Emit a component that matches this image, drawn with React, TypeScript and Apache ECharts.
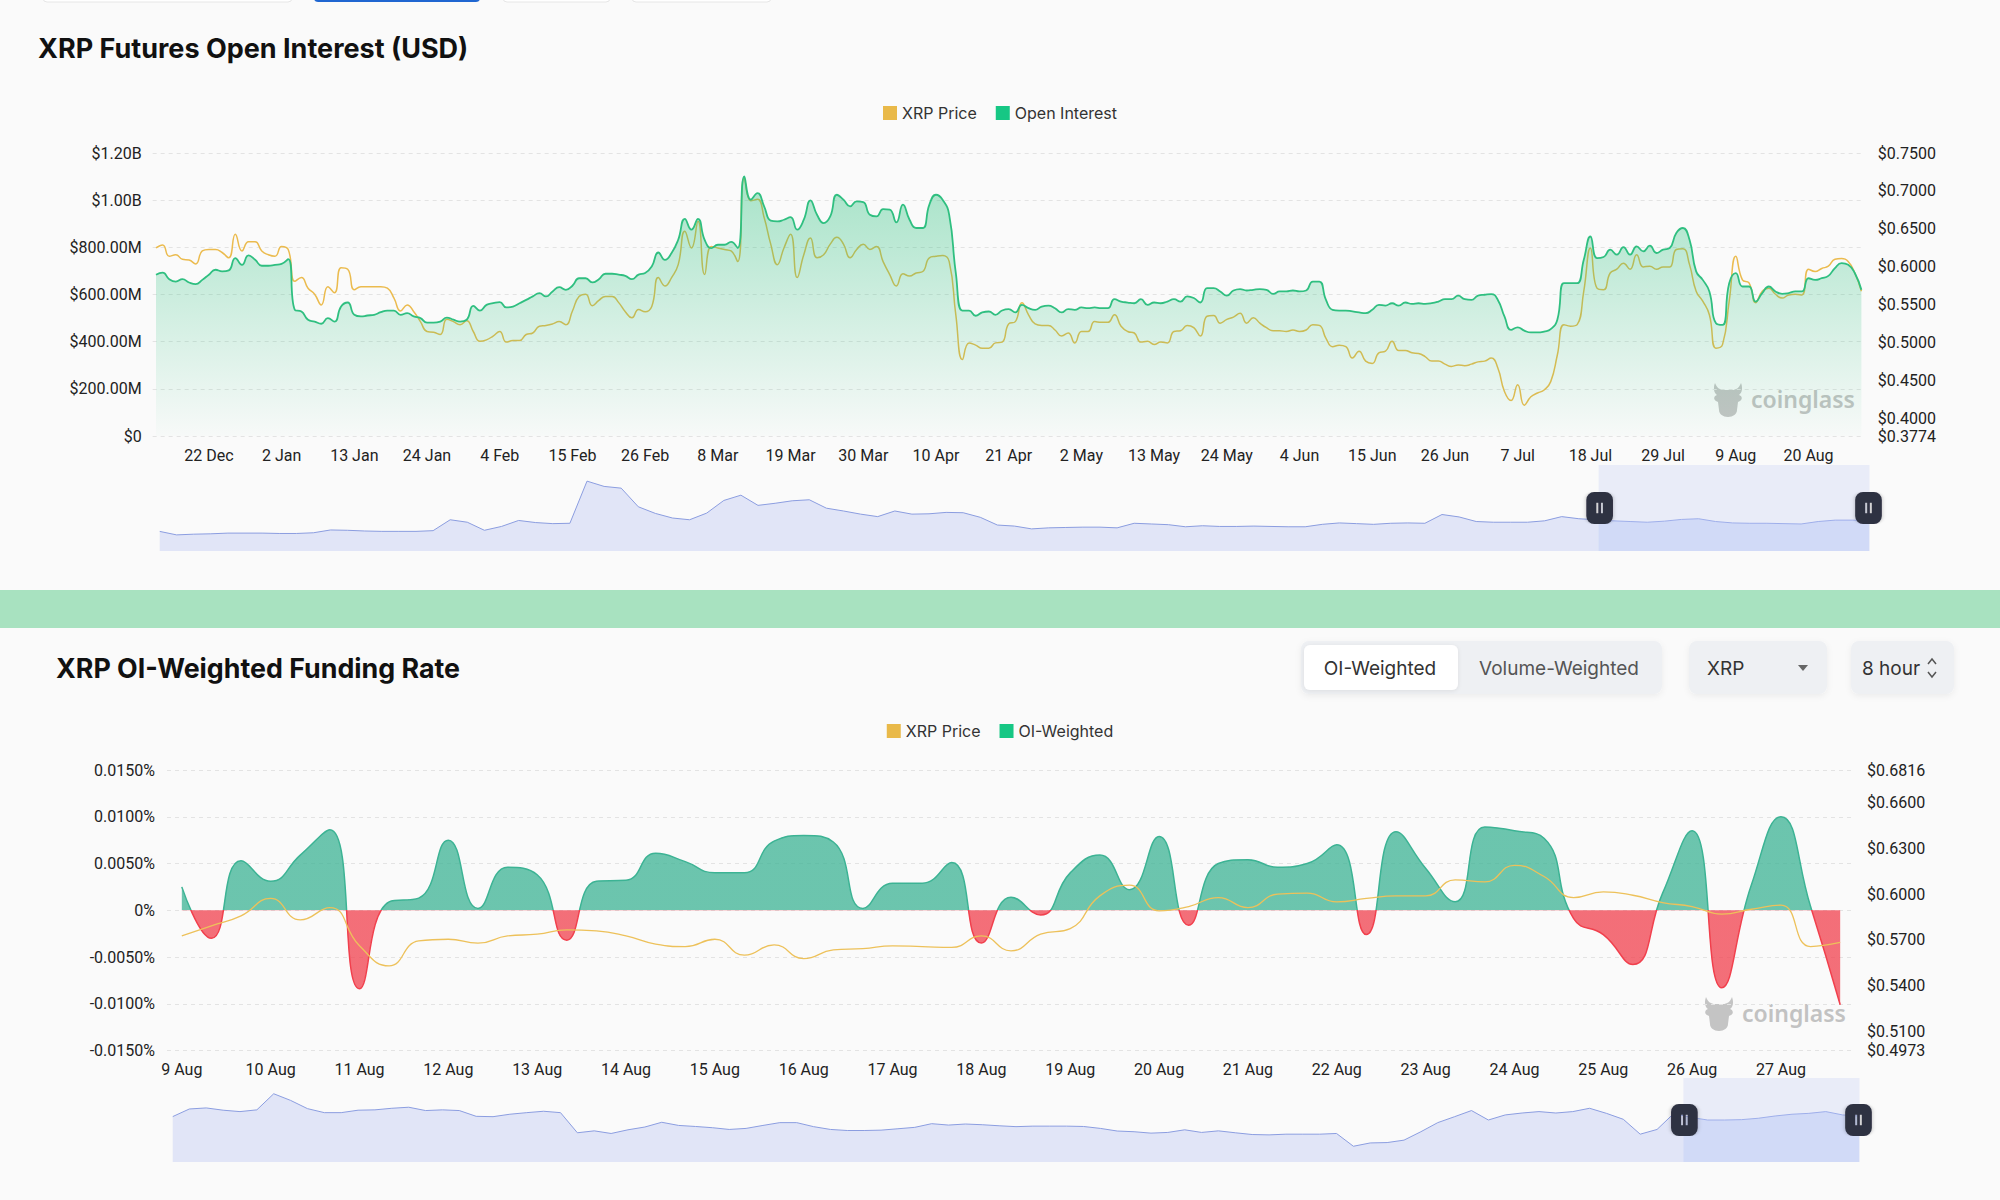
import React, { useEffect, useRef } from 'react';
import * as echarts from 'echarts';

// ---------- categories ----------
const MON = ['Jan', 'Feb', 'Mar', 'Apr', 'May', 'Jun', 'Jul', 'Aug', 'Sep', 'Oct', 'Nov', 'Dec'];
function makeDays(y: number, m: number, d: number, n: number): string[] {
  const out: string[] = [];
  for (let i = 0; i < n; i++) {
    const dt = new Date(Date.UTC(y, m, d + i));
    out.push(`${dt.getUTCDate()} ${MON[dt.getUTCMonth()]}`);
  }
  return out;
}
function makeSlots(y: number, m: number, d: number, n: number): string[] {
  const out: string[] = [];
  for (let i = 0; i < n; i++) {
    const dt = new Date(Date.UTC(y, m, d, i * 8));
    const hh = String(dt.getUTCHours()).padStart(2, '0');
    out.push(`${dt.getUTCDate()} ${MON[dt.getUTCMonth()]} ${hh}:00`);
  }
  return out;
}
const oiDates = makeDays(2023, 11, 14, 259); // 14 Dec 2023 .. 28 Aug 2024
const fundingSlots = makeSlots(2024, 7, 9, 57); // 9 Aug 00:00 .. 27 Aug 16:00

// ---------- top chart: open interest (USD, millions), daily ----------
const oiValues = [
  684, 693, 665, 655, 665, 651, 644, 662, 684, 705, 698, 702, 754, 726, 766, 747, 722, 722,
  726, 730, 750, 535, 528, 493, 485, 476, 500, 485, 549, 566, 514, 507, 511, 514, 525, 532, 532, 514, 521, 507, 500, 481, 481, 485, 502, 493, 485, 493, 552,
  532, 556, 563, 568, 545, 549, 563, 577, 592, 606, 592, 613, 631, 620, 637, 669, 669, 651, 665, 688, 688, 684, 679, 665, 684, 691, 719, 778, 747,
  776, 832, 921, 875, 921, 832, 797, 811, 811, 823, 797, 1101, 1002, 1030, 974, 913, 910, 917, 928, 875, 917, 999, 938, 903, 931, 1023, 1002, 974, 995, 992, 938,
  931, 962, 960, 906, 981, 917, 882, 882, 981, 1023, 1002, 938, 691, 532, 532, 510, 524, 528, 514, 532, 538, 524, 556, 542, 535, 549, 553, 542, 524, 538,
  535, 545, 542, 545, 542, 542, 580, 570, 566, 563, 580, 556, 566, 563, 570, 580, 570, 592, 585, 566, 627, 627, 613, 595, 617, 623, 617, 620, 623, 620, 603,
  613, 613, 617, 613, 617, 655, 655, 577, 535, 532, 532, 528, 524, 521, 535, 556, 553, 563, 553, 566, 560, 563, 560, 563, 570, 580, 580, 595, 580, 577,
  595, 599, 602, 577, 507, 450, 461, 447, 439, 439, 443, 453, 493, 648, 648, 648, 747, 846, 754, 759, 790, 769, 801, 769, 804, 783, 807, 776, 790, 797, 861,
  882, 832, 698, 662, 613, 478, 471, 648, 691, 634, 634, 570, 606, 634, 613, 603, 606, 613, 613, 669, 662, 669, 679, 712, 733, 726, 691, 620,
];
const topPrice = [
  0.625, 0.629, 0.614, 0.616, 0.610, 0.609, 0.604, 0.621, 0.623, 0.623, 0.619, 0.612, 0.643, 0.621, 0.633, 0.633, 0.621, 0.616,
  0.614, 0.627, 0.623, 0.581, 0.586, 0.572, 0.564, 0.550, 0.574, 0.566, 0.599, 0.597, 0.570, 0.574, 0.574, 0.574, 0.574, 0.572, 0.559, 0.542, 0.550, 0.541, 0.528, 0.515, 0.514, 0.511, 0.531, 0.528, 0.524, 0.529, 0.515,
  0.502, 0.504, 0.509, 0.515, 0.501, 0.503, 0.503, 0.511, 0.513, 0.522, 0.523, 0.525, 0.528, 0.524, 0.542, 0.561, 0.564, 0.549, 0.556, 0.561, 0.561, 0.553, 0.541, 0.533, 0.544, 0.541, 0.548, 0.586, 0.575,
  0.586, 0.603, 0.647, 0.625, 0.660, 0.590, 0.627, 0.625, 0.623, 0.621, 0.607, 0.717, 0.687, 0.689, 0.665, 0.630, 0.603, 0.625, 0.643, 0.586, 0.616, 0.638, 0.612, 0.616, 0.630, 0.639, 0.630, 0.612, 0.623, 0.630, 0.623,
  0.627, 0.607, 0.590, 0.575, 0.591, 0.588, 0.592, 0.594, 0.612, 0.614, 0.615, 0.607, 0.537, 0.478, 0.500, 0.497, 0.493, 0.493, 0.500, 0.501, 0.525, 0.528, 0.553, 0.537, 0.525, 0.523, 0.523, 0.517, 0.509, 0.513,
  0.500, 0.515, 0.515, 0.528, 0.527, 0.527, 0.537, 0.522, 0.515, 0.513, 0.501, 0.502, 0.498, 0.501, 0.500, 0.515, 0.516, 0.523, 0.520, 0.509, 0.535, 0.536, 0.526, 0.531, 0.534, 0.539, 0.526, 0.533, 0.526, 0.520, 0.516,
  0.516, 0.515, 0.517, 0.515, 0.517, 0.524, 0.523, 0.506, 0.495, 0.497, 0.495, 0.480, 0.489, 0.476, 0.473, 0.487, 0.489, 0.502, 0.490, 0.490, 0.487, 0.486, 0.482, 0.476, 0.476, 0.472, 0.469, 0.471, 0.470, 0.472,
  0.475, 0.476, 0.480, 0.467, 0.436, 0.424, 0.445, 0.418, 0.429, 0.434, 0.438, 0.449, 0.484, 0.524, 0.522, 0.524, 0.568, 0.625, 0.572, 0.570, 0.592, 0.597, 0.605, 0.597, 0.616, 0.600, 0.601, 0.597, 0.600, 0.600, 0.623,
  0.624, 0.603, 0.568, 0.555, 0.537, 0.493, 0.498, 0.555, 0.614, 0.583, 0.579, 0.553, 0.568, 0.572, 0.564, 0.559, 0.563, 0.564, 0.563, 0.597, 0.594, 0.598, 0.601, 0.610, 0.611, 0.607, 0.592, 0.568,
];
// full-history price used by the top zoom slider (evenly spaced samples)
const topHistory = [
  0.305, 0.200, 0.221, 0.232, 0.253, 0.253, 0.253, 0.242, 0.242, 0.263,
  0.347, 0.337, 0.316, 0.305, 0.305, 0.305, 0.326, 0.652, 0.578, 0.337,
  0.452, 0.631, 0.568, 0.536, 0.547, 1.807, 1.649, 1.597, 1.040, 0.841,
  0.704, 0.652, 0.851, 1.229, 1.387, 1.082, 1.145, 1.219, 1.250, 0.998,
  0.914, 0.820, 0.746, 0.914, 0.820, 0.830, 0.872, 0.862, 0.725, 0.494,
  0.463, 0.379, 0.410, 0.421, 0.431, 0.431, 0.410, 0.547, 0.526, 0.505,
  0.442, 0.473, 0.452, 0.452, 0.463, 0.452, 0.442, 0.442, 0.515, 0.557,
  0.536, 0.515, 0.547, 0.557, 0.547, 0.809, 0.736, 0.599, 0.578, 0.578,
  0.578, 0.620, 0.746, 0.683, 0.652, 0.620, 0.599, 0.578, 0.610, 0.662,
  0.683, 0.599, 0.557, 0.547, 0.547, 0.536, 0.526, 0.599, 0.641, 0.641,
  0.620,
];

// ---------- bottom chart: OI-weighted funding rate (%), 8-hour ----------
const funding = [
  0.0025, -0.0030, 0.0053, 0.0031, 0.0059, 0.0086, -0.0084, 0.0009, 0.0013, 0.0075,
  0.0002, 0.0046, 0.0038, -0.0032, 0.0031, 0.0032, 0.0061, 0.0052, 0.0040, 0.0040,
  0.0074, 0.0080, 0.0073, 0.0002, 0.0029, 0.0029, 0.0051, -0.0035, 0.0014, -0.0005,
  0.0040, 0.0059, 0.0022, 0.0079, -0.0016, 0.0050, 0.0054, 0.0046, 0.0050, 0.0070,
  -0.0026, 0.0084, 0.0045, 0.0009, 0.0089, 0.0085, 0.0077, -0.0009, -0.0026, -0.0058,
  0.0018, 0.0085, -0.0083, 0.0027, 0.0100, 0.0004, -0.0101,
];
const fundPrice = [
  0.5726, 0.5792, 0.5858, 0.5972, 0.5831, 0.5912, 0.5661, 0.5529, 0.5693, 0.5704,
  0.5678, 0.5726, 0.5737, 0.5766, 0.5759, 0.5726, 0.5672, 0.5656, 0.5704, 0.5599,
  0.5667, 0.5577, 0.5634, 0.5643, 0.5661, 0.5656, 0.5650, 0.5726, 0.5628, 0.5737,
  0.5774, 0.5989, 0.6059, 0.5891, 0.5919, 0.5978, 0.5912, 0.6000, 0.6007, 0.5950,
  0.5972, 0.5989, 0.5989, 0.6094, 0.6081, 0.6190, 0.6116, 0.5978, 0.6015, 0.5993,
  0.5945, 0.5919, 0.5869, 0.5901, 0.5928, 0.5656, 0.5683,
];
const bottomHistory = [
  0.589, 0.633, 0.639, 0.626, 0.618, 0.628, 0.720, 0.682, 0.635, 0.612,
  0.612, 0.626, 0.628, 0.637, 0.643, 0.624, 0.628, 0.624, 0.591, 0.589,
  0.603, 0.612, 0.620, 0.612, 0.497, 0.508, 0.493, 0.514, 0.530, 0.557,
  0.539, 0.533, 0.526, 0.516, 0.522, 0.539, 0.555, 0.555, 0.532, 0.516,
  0.510, 0.510, 0.512, 0.520, 0.528, 0.549, 0.541, 0.547, 0.543, 0.537,
  0.532, 0.535, 0.535, 0.535, 0.533, 0.522, 0.507, 0.503, 0.495, 0.499,
  0.514, 0.499, 0.508, 0.497, 0.487, 0.485, 0.489, 0.489, 0.489, 0.493,
  0.420, 0.439, 0.441, 0.455, 0.503, 0.555, 0.589, 0.624, 0.570, 0.599,
  0.610, 0.618, 0.610, 0.618, 0.637, 0.608, 0.574, 0.489, 0.516, 0.608,
  0.585, 0.570, 0.570, 0.572, 0.580, 0.593, 0.603, 0.608, 0.618, 0.599,
  0.593,
];
const topHistIdx = topHistory.map((_, i) => String(i));
const bottomHistIdx = bottomHistory.map((_, i) => String(i));

// ---------- styles ----------
const YELLOW = '#e9b949';
const GREEN = '#16c784';
const TEAL = '#3cb394';
const RED = '#f1404d';
const LABEL = '#222';
const FONT = 'Roboto, "Noto Sans", sans-serif';

const LOGO_PATH =
  'M3 1 C5 6 8 8 12 8 L20 8 C24 8 27 6 29 1 C31 6 30 11 27 13 C30 14 31 17 28 19 L26 20 L25 28 C25 32 21 35 16 35 C11 35 7 32 7 28 L6 20 L4 19 C1 17 2 14 5 13 C2 11 1 6 3 1 Z';
echarts.graphic.registerShape('cgLogo', echarts.graphic.extendPath(LOGO_PATH, {}));

const HANDLE_ICON =
  'path://M6,0H14A6,6,0,0,1,20,6V18A6,6,0,0,1,14,24H6A6,6,0,0,1,0,18V6A6,6,0,0,1,6,0ZM7.5,8V16H9V8ZM11,8V16H12.5V8Z';

const fmtUsd = (v: number) =>
  v === 0 ? '$0' : v >= 1000 ? '$' + (v / 1000).toFixed(2) + 'B' : '$' + v.toFixed(2) + 'M';
const fmtPrice = (v: number) => '$' + v.toFixed(4);
const fmtPct = (v: number) => (Math.abs(v) < 1e-9 ? '0%' : v.toFixed(4) + '%');

const axisLabelBase = { color: LABEL, fontSize: 16, fontFamily: FONT };
const dashed = { show: true, lineStyle: { color: '#e3e3e3', type: [4, 4] as any, width: 1 } };

const sliderBase = {
  type: 'slider',
  backgroundColor: 'rgba(0,0,0,0)',
  borderColor: 'rgba(0,0,0,0)',
  fillerColor: 'rgba(120,150,240,0.13)',
  dataBackground: {
    lineStyle: { color: '#8b9de0', width: 1, opacity: 1 },
    areaStyle: { color: '#c3cdf3', opacity: 0.45 },
  },
  selectedDataBackground: {
    lineStyle: { color: '#a4b3ea', width: 1, opacity: 1 },
    areaStyle: { color: '#a9bcf5', opacity: 0.35 },
  },
  handleIcon: HANDLE_ICON,
  handleSize: 32,
  handleStyle: { color: '#2e3142', borderWidth: 0, shadowBlur: 4, shadowColor: 'rgba(0,0,0,0.25)' },
  emphasis: { handleStyle: { color: '#2e3142', borderWidth: 0 } },
  moveHandleSize: 0,
  showDetail: false,
  brushSelect: false,
  showDataShadow: true,
};

function box(x: number, y: number, w: number, h: number, r: number, fill: string, extra: any = {}) {
  return { type: 'rect', shape: { x, y, width: w, height: h, r }, style: { fill, ...extra }, silent: true };
}
function txt(x: number, y: number, text: string, size: number, fill: string, align = 'left', weight: any = 400, family = 'Inter') {
  return {
    type: 'text',
    x,
    y,
    silent: true,
    style: { text, fontSize: size, fontWeight: weight, fontFamily: family, fill, textAlign: align, textVerticalAlign: 'middle' },
  };
}

function buildOption(): any {
  const graphic: any[] = [
    // cut-off tab buttons at the top edge
    box(43, -20, 249, 22, 4, '#ffffff', { stroke: '#e6e6e6', lineWidth: 1 }),
    box(314, -20, 166, 22, 4, '#1f66d1'),
    box(503, -20, 107, 22, 4, '#ffffff', { stroke: '#e6e6e6', lineWidth: 1 }),
    box(632, -20, 139, 22, 4, '#ffffff', { stroke: '#e6e6e6', lineWidth: 1 }),
    txt(38, 48, 'XRP Futures Open Interest (USD)', 27, '#111', 'left', 700),
    // separator band
    { type: 'rect', shape: { x: 0, y: 590, width: 2000, height: 38 }, style: { fill: '#a8e2c0' }, silent: true },
    txt(56, 668, 'XRP OI-Weighted Funding Rate', 26.8, '#111', 'left', 700),
    // controls
    box(1301, 641, 361, 53, 8, '#eef0f3', { shadowBlur: 6, shadowColor: 'rgba(0,0,0,0.06)', shadowOffsetY: 2 }),
    box(1304, 645, 154, 45, 6, '#ffffff', { shadowBlur: 4, shadowColor: 'rgba(0,0,0,0.08)', shadowOffsetY: 1 }),
    txt(1380, 668, 'OI-Weighted', 19, '#333', 'center'),
    txt(1559, 668, 'Volume-Weighted', 19, '#555', 'center'),
    box(1689, 641, 138, 53, 8, '#eef0f3', { shadowBlur: 6, shadowColor: 'rgba(0,0,0,0.06)', shadowOffsetY: 2 }),
    txt(1707, 668, 'XRP', 19, '#333', 'left'),
    { type: 'polygon', shape: { points: [[1798, 665], [1808, 665], [1803, 671]] }, style: { fill: '#666' }, silent: true },
    box(1851, 641, 103, 53, 8, '#eef0f3', { shadowBlur: 6, shadowColor: 'rgba(0,0,0,0.06)', shadowOffsetY: 2 }),
    txt(1862, 668, '8 hour', 19, '#333', 'left'),
    { type: 'polyline', shape: { points: [[1928, 664], [1932, 659], [1936, 664]] }, style: { stroke: '#555', lineWidth: 1.5, fill: 'none' }, silent: true },
    { type: 'polyline', shape: { points: [[1928, 672], [1932, 677], [1936, 672]] }, style: { stroke: '#555', lineWidth: 1.5, fill: 'none' }, silent: true },
    // watermarks
    { type: 'cgLogo', x: 1712, y: 382, style: { fill: '#c4c4c4' }, silent: true },
    txt(1751, 399, 'coinglass', 23, '#c2c2c2', 'left', 600, '"Noto Sans", sans-serif'),
    { type: 'cgLogo', x: 1703, y: 996, style: { fill: '#c4c4c4' }, silent: true },
    txt(1742, 1013, 'coinglass', 23, '#c2c2c2', 'left', 600, '"Noto Sans", sans-serif'),
  ];

  return {
    animation: false,
    backgroundColor: '#fafafa',
    textStyle: { fontFamily: FONT },
    graphic,
    legend: [
      {
        data: ['XRP Price', 'Open Interest'],
        top: 100,
        left: 'center',
        icon: 'rect',
        itemWidth: 14,
        itemHeight: 14,
        itemGap: 19,
        selectedMode: false,
        textStyle: { fontSize: 16, color: '#333', fontFamily: 'Inter' },
      },
      {
        data: ['XRP Price', 'OI-Weighted'],
        top: 718,
        left: 'center',
        icon: 'rect',
        itemWidth: 14,
        itemHeight: 14,
        itemGap: 19,
        selectedMode: false,
        textStyle: { fontSize: 16, color: '#333', fontFamily: 'Inter' },
      },
    ],
    grid: [
      { left: 152.7, right: 135.3, top: 153, height: 283, containLabel: false },
      { left: 157, right: 133, top: 465, height: 86, containLabel: false },
      { left: 167, right: 145, top: 770, height: 280.5, containLabel: false },
      { left: 170, right: 143, top: 1078, height: 84, containLabel: false },
    ],
    xAxis: [
      {
        type: 'category',
        gridIndex: 0,
        data: oiDates,
        boundaryGap: true,
        axisLine: { show: false },
        axisTick: { show: false },
        splitLine: { show: false },
        axisLabel: { ...axisLabelBase, margin: 11.5, interval: (i: number) => (i - 8) % 11 === 0 },
      },
      { type: 'category', gridIndex: 1, data: topHistIdx, show: false, boundaryGap: false },
      {
        type: 'category',
        gridIndex: 2,
        data: fundingSlots,
        boundaryGap: true,
        axisLine: { show: false },
        axisTick: { show: false },
        splitLine: { show: false },
        axisLabel: {
          ...axisLabelBase,
          margin: 11,
          interval: 2,
          formatter: (v: string) => v.split(' ').slice(0, 2).join(' '),
        },
      },
      { type: 'category', gridIndex: 3, data: bottomHistIdx, show: false, boundaryGap: false },
    ],
    yAxis: [
      {
        type: 'value',
        gridIndex: 0,
        position: 'left',
        min: 0,
        max: 1200,
        interval: 200,
        axisLine: { show: false },
        axisTick: { show: false },
        splitLine: dashed,
        axisLabel: { ...axisLabelBase, margin: 11, formatter: fmtUsd },
      },
      {
        type: 'value',
        gridIndex: 0,
        position: 'right',
        min: 0.3774,
        max: 0.75,
        splitNumber: 7,
        axisLine: { show: false },
        axisTick: { show: false },
        splitLine: { show: false },
        axisLabel: { ...axisLabelBase, margin: 13, formatter: fmtPrice },
      },
      { type: 'value', gridIndex: 1, show: false, scale: true },
      {
        type: 'value',
        gridIndex: 2,
        position: 'left',
        min: -0.015,
        max: 0.015,
        interval: 0.005,
        axisLine: { show: false },
        axisTick: { show: false },
        splitLine: dashed,
        axisLabel: { ...axisLabelBase, margin: 12, formatter: fmtPct },
      },
      {
        type: 'value',
        gridIndex: 2,
        position: 'right',
        min: 0.4973,
        max: 0.6816,
        splitNumber: 5,
        axisLine: { show: false },
        axisTick: { show: false },
        splitLine: { show: false },
        axisLabel: { ...axisLabelBase, margin: 12, formatter: fmtPrice },
      },
      { type: 'value', gridIndex: 3, show: false, scale: true },
    ],
    visualMap: [
      {
        type: 'piecewise',
        show: false,
        seriesIndex: 3,
        dimension: 1,
        pieces: [
          { gte: -1, lt: 0, color: RED },
          { gte: 0, lte: 1, color: TEAL },
        ],
      },
    ],
    dataZoom: [
      { ...sliderBase, xAxisIndex: 1, start: 84.16, end: 100, left: 157, right: 133, top: 465, height: 86 },
      { ...sliderBase, xAxisIndex: 3, start: 89.56, end: 100, left: 170, right: 143, top: 1078, height: 84 },
    ],
    series: [
      {
        name: 'XRP Price',
        type: 'line',
        xAxisIndex: 0,
        yAxisIndex: 1,
        data: topPrice,
        smooth: true,
        symbol: 'none',
        itemStyle: { color: YELLOW },
        lineStyle: { width: 1.5, color: '#ebbb4e' },
        z: 2,
      },
      {
        name: 'Open Interest',
        type: 'line',
        xAxisIndex: 0,
        yAxisIndex: 0,
        data: oiValues,
        smooth: true,
        symbol: 'none',
        itemStyle: { color: GREEN },
        lineStyle: { width: 1.8, color: '#2fbf80' },
        areaStyle: {
          color: new echarts.graphic.LinearGradient(0, 0, 0, 1, [
            { offset: 0, color: 'rgba(34,190,120,0.55)' },
            { offset: 1, color: 'rgba(34,190,120,0.02)' },
          ]),
        },
        z: 3,
      },
      {
        name: 'history-top',
        type: 'line',
        xAxisIndex: 1,
        yAxisIndex: 2,
        data: topHistory,
        symbol: 'none',
        silent: true,
        lineStyle: { opacity: 0 },
      },
      {
        name: 'OI-Weighted',
        type: 'line',
        xAxisIndex: 2,
        yAxisIndex: 3,
        data: funding,
        smooth: true,
        symbol: 'none',
        itemStyle: { color: GREEN },
        lineStyle: { width: 1.5 },
        areaStyle: { opacity: 0.75 },
        z: 2,
      },
      {
        name: 'XRP Price',
        type: 'line',
        xAxisIndex: 2,
        yAxisIndex: 4,
        data: fundPrice,
        smooth: true,
        symbol: 'none',
        itemStyle: { color: YELLOW },
        lineStyle: { width: 1.3, color: '#edc15a' },
        z: 3,
      },
      {
        name: 'history-bottom',
        type: 'line',
        xAxisIndex: 3,
        yAxisIndex: 5,
        data: bottomHistory,
        symbol: 'none',
        silent: true,
        lineStyle: { opacity: 0 },
      },
    ],
  };
}

export default function App() {
  const ref = useRef<HTMLDivElement>(null);
  useEffect(() => {
    if (!ref.current) return;
    const chart = echarts.init(ref.current, null, { renderer: 'svg' });
    chart.setOption(buildOption());
    return () => chart.dispose();
  }, []);
  return (
    <div
      ref={ref}
      style={{ position: 'absolute', left: 0, top: 0, width: 2000, height: 1200, background: '#fafafa' }}
    />
  );
}
